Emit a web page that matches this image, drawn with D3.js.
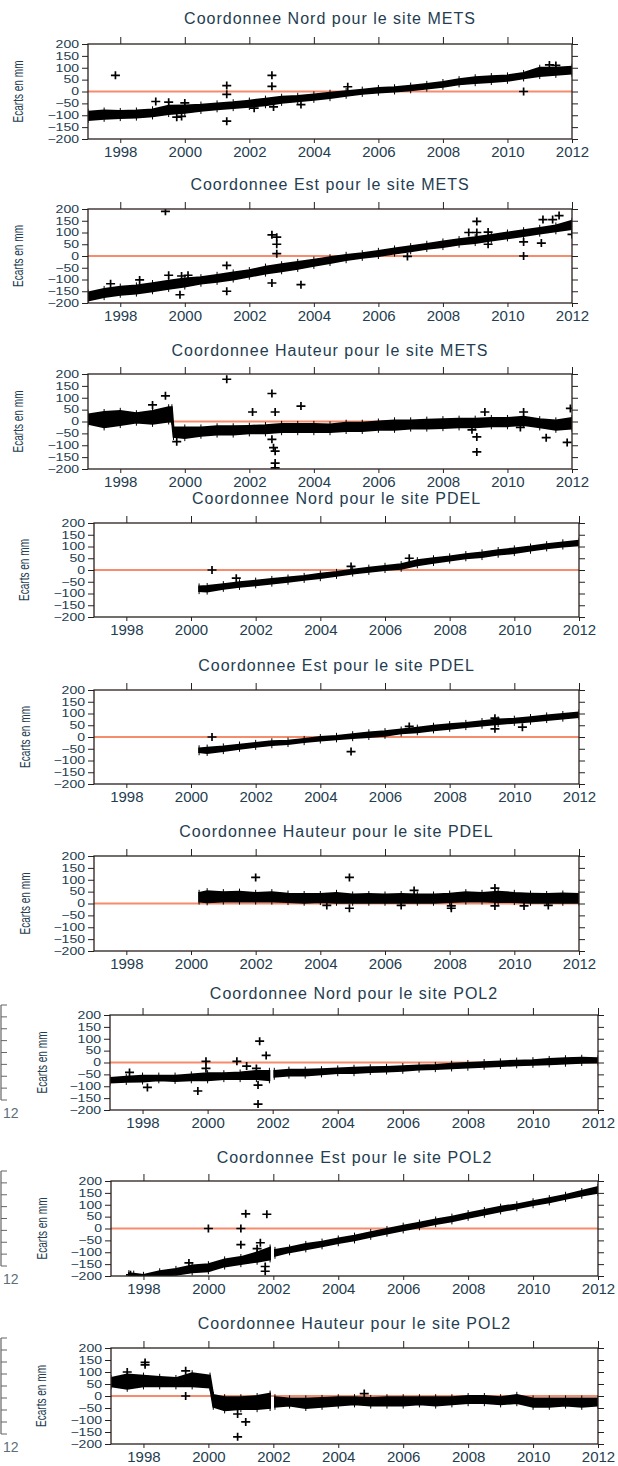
<!DOCTYPE html>
<html><head><meta charset="utf-8">
<script src="https://cdn.jsdelivr.net/npm/d3@7"></script>
<style>body{margin:0;background:#fff}svg{display:block}</style>
</head><body>
<svg id="chart" width="618" height="1466"></svg>
<script>
// ---------------- DATA (mm) ----------------
const components = ["Nord", "Est", "Hauteur"];
const sites = ["METS", "PDEL", "POL2"];
const xTicks = [1998, 2000, 2002, 2004, 2006, 2008, 2010, 2012];
const yTicks = [-200, -150, -100, -50, 0, 50, 100, 150, 200];

// METS Nord
const metsNordYears = [1997,1997.5,1998,1998.5,1999,1999.5,2000,2000.5,2001,2001.5,2002,2002.5,2003,2003.5,2004,2004.5,2005,2005.5,2006,2006.5,2007,2007.5,2008,2008.5,2009,2009.5,2010,2010.5,2011,2011.5,2012];
const metsNordLow  = [-120,-115,-112,-110,-105,-95,-90,-82,-75,-70,-65,-58,-48,-42,-35,-28,-18,-10,-5,0,5,12,20,30,35,40,45,55,65,70,75];
const metsNordHigh = [-85,-80,-82,-80,-75,-60,-58,-55,-50,-45,-38,-30,-22,-18,-12,-5,2,8,15,18,25,32,40,52,60,65,68,78,100,100,105];
const metsNordOut = [[1997.85,68],[1999.1,-42],[1999.5,-45],[1999.75,-108],[1999.9,-105],[2000,-48],[2001.3,25],[2001.3,-12],[2001.3,-125],[2002.15,-70],[2002.7,68],[2002.7,22],[2002.75,-65],[2003.6,-55],[2005.05,20],[2010.5,0],[2011.3,112],[2011.5,110]];

// METS Est
const metsEstYears = metsNordYears;
const metsEstLow  = [-190,-175,-165,-160,-150,-140,-130,-118,-110,-100,-88,-75,-65,-55,-42,-30,-18,-8,0,10,20,30,38,48,55,65,75,85,95,105,115];
const metsEstHigh = [-155,-140,-130,-125,-115,-105,-95,-90,-80,-70,-60,-45,-35,-25,-15,-5,5,12,22,32,42,52,62,72,80,90,100,110,120,130,150];
const metsEstOut = [[1999.4,190],[1997.7,-118],[1998.6,-102],[1999.5,-82],[1999.85,-165],[1999.9,-85],[2000.1,-82],[2001.3,-40],[2001.3,-150],[2002.7,90],[2002.85,80],[2002.85,50],[2002.85,10],[2002.7,-115],[2003.6,-122],[2006.9,-2],[2008.8,100],[2009.05,147],[2009.05,100],[2009.4,102],[2009.4,50],[2010.5,60],[2010.5,0],[2011.05,55],[2011.1,155],[2011.4,155],[2011.6,172],[2012,92]];

// METS Hauteur
const metsHautYears = [1997,1997.5,1998,1998.5,1999,1999.5,1999.6,1999.65,2000,2000.5,2001,2001.5,2002,2002.5,2003,2003.5,2004,2004.5,2005,2005.5,2006,2006.5,2007,2007.5,2008,2008.5,2009,2009.5,2010,2010.5,2011,2011.5,2012];
const metsHautLow  = [-10,-25,-15,-5,-10,0,0,-65,-70,-60,-55,-55,-50,-50,-45,-45,-45,-45,-40,-40,-35,-35,-30,-30,-28,-25,-25,-20,-20,-15,-25,-35,-30];
const metsHautHigh = [30,40,45,35,45,60,60,-25,-25,-25,-20,-20,-18,-15,-10,-10,-10,-12,-5,-5,0,5,5,8,10,12,12,15,15,20,10,5,15];
const metsHautOut = [[1999.4,108],[1999.0,70],[1999.75,-85],[2001.3,178],[2002.1,40],[2002.7,118],[2002.8,40],[2002.7,-75],[2002.75,-110],[2002.8,-125],[2002.8,-175],[2002.8,-195],[2003.6,65],[2008.9,-35],[2009.05,-65],[2009.05,-128],[2009.3,40],[2010.5,40],[2010.4,-25],[2011.2,-68],[2011.85,-88],[2011.95,55]];

// PDEL
const pdelYears = [2000.25,2000.5,2001,2001.5,2002,2002.5,2003,2003.5,2004,2004.5,2005,2005.5,2006,2006.5,2007,2007.5,2008,2008.5,2009,2009.5,2010,2010.5,2011,2011.5,2012];
const pdelNordLow  = [-90,-92,-80,-72,-65,-58,-50,-42,-35,-25,-15,-8,0,5,20,30,40,50,55,65,72,82,92,100,105];
const pdelNordHigh = [-70,-68,-60,-52,-45,-38,-32,-25,-15,-8,2,10,18,25,42,50,58,68,75,85,92,100,110,118,125];
const pdelNordOut = [[2000.65,0],[2001.4,-35],[2004.95,15],[2006.75,50]];

const pdelEstLow  = [-65,-68,-60,-50,-42,-35,-30,-22,-15,-10,-5,0,5,15,20,28,35,42,48,55,60,65,72,78,85];
const pdelEstHigh = [-48,-45,-40,-32,-25,-18,-15,-8,0,5,12,20,25,32,40,48,55,60,68,75,78,85,92,98,105];
const pdelEstOut = [[2000.65,0],[2004.95,-62],[2006.75,45],[2009.4,80],[2009.4,35],[2010.25,42]];

const pdelHautLow  = [8,5,8,8,8,8,6,3,6,3,3,3,3,3,3,3,6,8,8,6,6,3,3,3,3];
const pdelHautHigh = [45,52,48,50,45,48,42,40,40,45,38,40,38,40,38,38,42,48,45,50,45,42,40,42,40];
const pdelHautOut = [[2002.0,110],[2004.9,110],[2004.9,-20],[2006.9,55],[2008.05,-20],[2008.05,-10],[2009.4,65],[2009.4,-10],[2010.3,-10],[2011.05,-8],[2004.2,-8],[2006.5,-8]];

// POL2 Nord (null = data gap)
const pol2NordYears = [1997,1997.5,1998,1998.5,1999,1999.5,2000,2000.5,2001,2001.5,2001.9,2001.97,2002.05,2002.5,2003,2003.5,2004,2004.5,2005,2005.5,2006,2006.5,2007,2007.5,2008,2008.5,2009,2009.5,2010,2010.5,2011,2011.5,2012];
const pol2NordLow  = [-85,-82,-80,-75,-78,-75,-75,-70,-70,-70,-75,null,-60,-55,-55,-50,-45,-45,-40,-38,-35,-30,-28,-25,-22,-18,-15,-12,-10,-8,-5,-2,0];
const pol2NordHigh = [-65,-60,-55,-55,-55,-50,-45,-45,-42,-35,-35,null,-35,-30,-30,-28,-25,-22,-20,-18,-15,-12,-10,-5,-2,2,5,8,10,15,18,20,18];
const pol2NordOut = [[1997.6,-42],[1998.15,-105],[1999.7,-120],[1999.95,5],[1999.95,-25],[2000.9,5],[2001.2,-15],[2001.55,-95],[2001.6,90],[2001.55,-175],[2001.8,30],[2001.5,-25]];

// POL2 Est
const pol2EstYears = [1997.55,1997.7,1998,1998.5,1999,1999.5,2000,2000.5,2001,2001.5,2001.9,2001.97,2002.05,2002.5,2003,2003.5,2004,2004.5,2005,2005.5,2006,2006.5,2007,2007.5,2008,2008.5,2009,2009.5,2010,2010.5,2011,2011.5,2012];
const pol2EstLow  = [-205,-205,-210,-200,-195,-185,-180,-160,-150,-140,-130,null,-115,-100,-88,-75,-62,-50,-35,-22,-8,5,18,30,45,58,72,85,98,110,125,138,150];
const pol2EstHigh = [-188,-190,-195,-180,-170,-155,-150,-130,-120,-100,-80,null,-90,-80,-65,-55,-42,-30,-15,-2,12,25,38,50,65,78,92,102,115,128,142,158,175];
const pol2EstOut = [[1997.6,-195],[1999.4,-145],[2000,0],[2001.0,0],[2001.0,-68],[2001.15,62],[2001.8,60],[2001.6,-60],[2001.75,-160],[2001.75,-180],[2001.5,-85]];

// POL2 Hauteur
const pol2HautYears = [1997,1997.5,1998,1998.5,1999,1999.5,2000.05,2000.15,2000.5,2001,2001.5,2001.9,2001.97,2002.05,2002.5,2003,2003.5,2004,2004.5,2005,2005.5,2006,2006.5,2007,2007.5,2008,2008.5,2009,2009.5,2010,2010.5,2011,2011.5,2012];
const pol2HautLow  = [40,30,40,40,40,40,35,-45,-60,-55,-55,-50,null,-45,-40,-50,-45,-40,-35,-40,-40,-40,-35,-40,-35,-30,-30,-35,-30,-45,-45,-40,-45,-40];
const pol2HautHigh = [75,90,85,80,75,95,85,5,-5,-5,0,10,null,-5,-10,-10,-8,-5,-5,-8,-5,-5,-5,-5,-5,0,0,-5,5,-10,-10,-10,-10,-10];
const pol2HautOut = [[1998.05,140],[1998.05,130],[1999.3,0],[2000.9,-75],[2001.15,-108],[2000.9,-170],[2004.8,10],[1997.5,100],[1999.3,105]];

const panels = [
  {site:0, comp:0, years:metsNordYears, low:metsNordLow, high:metsNordHigh, out:metsNordOut},
  {site:0, comp:1, years:metsEstYears,  low:metsEstLow,  high:metsEstHigh,  out:metsEstOut},
  {site:0, comp:2, years:metsHautYears, low:metsHautLow, high:metsHautHigh, out:metsHautOut},
  {site:1, comp:0, years:pdelYears, low:pdelNordLow, high:pdelNordHigh, out:pdelNordOut},
  {site:1, comp:1, years:pdelYears, low:pdelEstLow,  high:pdelEstHigh,  out:pdelEstOut},
  {site:1, comp:2, years:pdelYears, low:pdelHautLow, high:pdelHautHigh, out:pdelHautOut},
  {site:2, comp:0, years:pol2NordYears, low:pol2NordLow, high:pol2NordHigh, out:pol2NordOut},
  {site:2, comp:1, years:pol2EstYears,  low:pol2EstLow,  high:pol2EstHigh,  out:pol2EstOut},
  {site:2, comp:2, years:pol2HautYears, low:pol2HautLow, high:pol2HautHigh, out:pol2HautOut}
];

// ---------------- LAYOUT ----------------
const layout = [
  {left:88,  right:572, top:44,   bottom:139,  titleY:18,   ylabX:18},
  {left:88,  right:572, top:209,  bottom:303,  titleY:184,  ylabX:18},
  {left:88,  right:572, top:374,  bottom:469,  titleY:350,  ylabX:18},
  {left:94,  right:579, top:523,  bottom:617,  titleY:498,  ylabX:24},
  {left:94,  right:579, top:690,  bottom:784,  titleY:665,  ylabX:25},
  {left:94,  right:579, top:856,  bottom:951,  titleY:831,  ylabX:25},
  {left:110, right:598, top:1015, bottom:1110, titleY:993,  ylabX:42},
  {left:111, right:598, top:1181, bottom:1276, titleY:1157, ylabX:42},
  {left:111, right:598, top:1348, bottom:1444, titleY:1323, ylabX:41}
];
const textColor = "#243d50";
const refColor = "#f58c6c";
const fontFam = "'Liberation Sans', Arial, Helvetica, sans-serif";
const yLabStretch = 1.35;

const svg = d3.select("#chart");
svg.append("rect").attr("width",618).attr("height",1466).attr("fill","#fff");

panels.forEach((p, i) => {
  const L = layout[i];
  const x = d3.scaleLinear().domain([1997, 2012]).range([L.left, L.right]);
  const y = d3.scaleLinear().domain([-200, 200]).range([L.bottom, L.top]);
  const g = svg.append("g");
  const clipId = "clip" + i;
  g.append("clipPath").attr("id", clipId).append("rect")
    .attr("x", L.left).attr("y", L.top).attr("width", L.right - L.left).attr("height", L.bottom - L.top);

  // title
  g.append("text").attr("x", (L.left + L.right) / 2).attr("y", L.titleY)
    .attr("text-anchor", "middle").attr("dominant-baseline", "central")
    .attr("font-family", fontFam).attr("font-size", 16).attr("letter-spacing", 1)
    .attr("fill", textColor)
    .text("Coordonnee " + components[p.comp] + " pour le site " + sites[p.site]);

  // y label
  g.append("text")
    .attr("transform", `translate(${L.ylabX},${(L.top + L.bottom) / 2}) rotate(-90) scale(0.72,1)`)
    .attr("text-anchor", "middle").attr("dominant-baseline", "central")
    .attr("font-family", fontFam).attr("font-size", 14).attr("fill", textColor)
    .text("Ecarts en mm");

  const plot = g.append("g").attr("clip-path", `url(#${clipId})`);
  // reference line at zero
  plot.append("line").attr("x1", L.left).attr("x2", L.right)
    .attr("y1", y(0)).attr("y2", y(0)).attr("stroke", refColor).attr("stroke-width", 2.2);

  // data band
  const pts = p.years.map((yr, k) => ({yr, lo: p.low[k], hi: p.high[k]}));
  const area = d3.area().defined(d => d.lo != null)
    .x(d => x(d.yr)).y0(d => y(d.lo)).y1(d => y(d.hi));
  plot.append("path").attr("d", area(pts)).attr("fill", "#000")
    .attr("stroke", "#000").attr("stroke-width", 1.8).attr("stroke-linejoin", "miter");
  // error-bar spikes at each reading
  plot.selectAll("line.eb").data(pts.filter(d => d.lo != null)).enter().append("line")
    .attr("x1", d => x(d.yr)).attr("x2", d => x(d.yr))
    .attr("y1", d => y(d.lo) + 3).attr("y2", d => y(d.hi) - 3)
    .attr("stroke", "#000").attr("stroke-width", 1);

  // outliers as crosses
  plot.selectAll("path.cross").data(p.out).enter().append("path")
    .attr("transform", d => `translate(${x(d[0])},${y(d[1])})`)
    .attr("d", "M-4.5,0H4.5M0,-4V4").attr("stroke", "#000").attr("stroke-width", 1.7).attr("fill", "none");

  // axes
  const axL = d3.axisLeft(y).tickValues(yTicks).tickSize(6).tickPadding(3);
  const axR = d3.axisRight(y).tickValues(yTicks).tickSize(6).tickFormat("");
  const axT = d3.axisTop(x).tickValues(xTicks).tickSize(7).tickFormat("");
  const axB = d3.axisBottom(x).tickValues(xTicks).tickSize(4).tickPadding(3).tickFormat(d3.format("d"));
  const styleAxis = sel => {
    sel.select(".domain").remove();
    sel.selectAll("line").attr("stroke", "#222");
    sel.selectAll("text").attr("font-family", fontFam).attr("font-size", 15).attr("fill", textColor);
  };
  const gl = g.append("g").attr("transform", `translate(${L.left},0)`).call(axL).call(styleAxis);
  gl.selectAll("text").attr("font-size", 10.4)
    .attr("x", -9 / yLabStretch).attr("transform", `scale(${yLabStretch},1)`);
  g.append("g").attr("transform", `translate(${L.right},0)`).call(axR).call(styleAxis);
  g.append("g").attr("transform", `translate(0,${L.top})`).call(axT).call(styleAxis);
  g.append("g").attr("transform", `translate(0,${L.bottom})`).call(axB).call(styleAxis);

  // frame
  g.append("rect").attr("x", L.left).attr("y", L.top)
    .attr("width", L.right - L.left).attr("height", L.bottom - L.top)
    .attr("fill", "none").attr("stroke", "#2a1f1c").attr("stroke-width", 1.3);

  // cut-off edge of a neighbouring figure (left margin, POL2 rows)
  if (p.site === 2) {
    const yf = d3.scaleLinear().domain([-200, 200]).range([L.bottom - 10, L.top - 10]);
    const frag = svg.append("g").attr("opacity", 0.75);
    frag.append("line").attr("x1", 1).attr("x2", 1).attr("y1", yf(200)).attr("y2", yf(-200))
      .attr("stroke", "#333").attr("stroke-width", 1.2);
    frag.selectAll("line.t").data(yTicks).enter().append("line")
      .attr("x1", 1).attr("x2", 7).attr("y1", d => yf(d)).attr("y2", d => yf(d))
      .attr("stroke", "#333").attr("stroke-width", 1);
    frag.append("text").attr("x", 3).attr("y", L.bottom + 3).attr("dominant-baseline", "central")
      .attr("font-family", fontFam).attr("font-size", 14).attr("fill", textColor).text("12");
  }
});
</script>
</body></html>
